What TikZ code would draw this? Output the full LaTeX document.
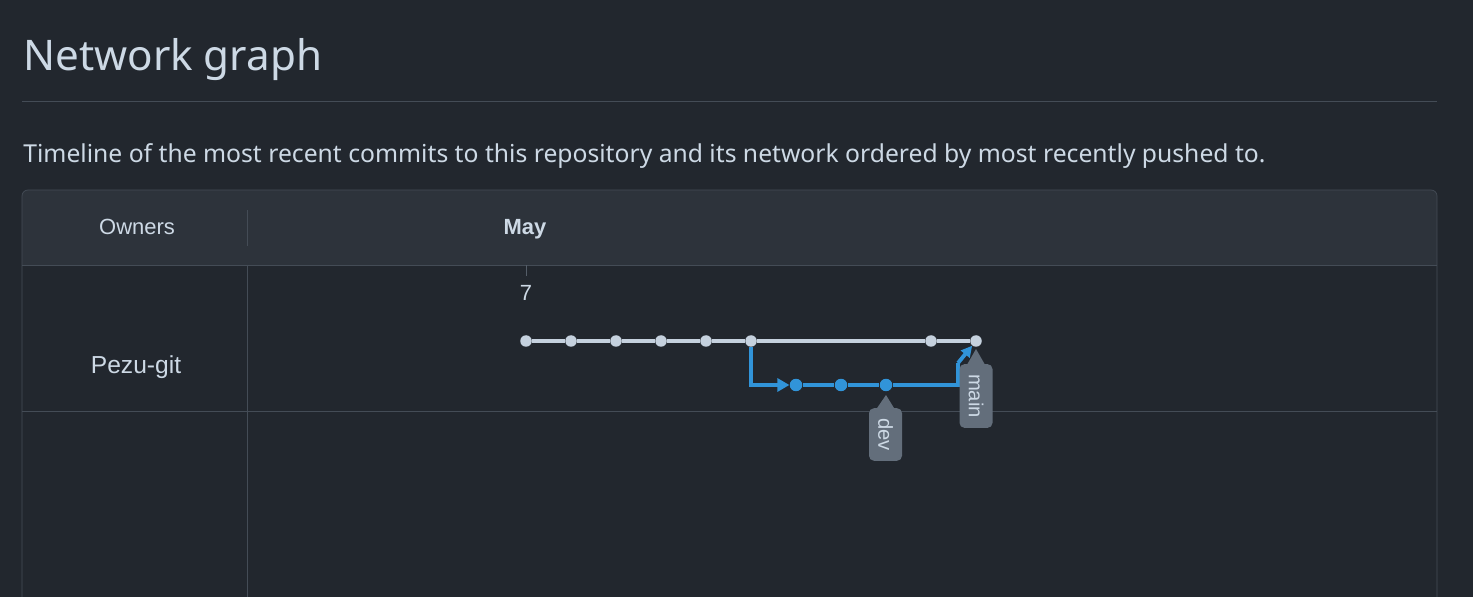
\documentclass[tikz,border=0pt]{standalone}
\usepackage{fontspec}
\setmainfont{Noto Sans}
\newfontfamily\arialfont{Liberation Sans}
\usetikzlibrary{arrows.meta,calc}
\definecolor{pagebg}{HTML}{22272E}
\definecolor{headbg}{HTML}{2D333B}
\definecolor{rulegray}{HTML}{444C56}
\definecolor{tickgray}{HTML}{545D68}
\definecolor{fgtext}{HTML}{ADBAC7}
\definecolor{lighttext}{HTML}{CDD9E5}
\definecolor{mainline}{HTML}{C5D1DE}
\definecolor{devblue}{HTML}{3194D9}
\definecolor{tagbg}{HTML}{636E7B}
\tikzset{
  commit/.style={circle, fill=mainline, inner sep=0pt, minimum size=0.23cm},
  devcommit/.style={circle, fill=devblue, inner sep=0pt, minimum size=0.25cm},
  tagbox/.style={fill=tagbg, rounded corners=0.1cm, text=lighttext, rotate=-90, font=\arialfont\fontsize{11.5}{13}\selectfont, minimum height=0.66cm, inner xsep=0.2cm},
  headtext/.style={text=lighttext, font=\arialfont\fontsize{12.5}{15}\selectfont}
}
\begin{document}
\begin{tikzpicture}[x=0.02cm, y=-0.02cm]
        \useasboundingbox (0,0) rectangle (1473,597);
        \fill[pagebg] (0,0) rectangle (1473,597);
        \node[anchor=base west, inner sep=0pt, text=lighttext, font=\fontsize{24}{29}\selectfont] (title) at (23,71) {Network graph};
        \draw[rulegray] (22,101) -- (1437,101);
        \node[anchor=base west, inner sep=0pt, text=lighttext, font=\fontsize{14.05}{17}\selectfont] (subtitle) at (23,163) {Timeline of the most recent commits to this repository and its network ordered by most recently pushed to.};
        \fill[headbg] (22,265) [rounded corners=0.12cm] -- (22,190) -- (1437,190) [sharp corners] -- (1437,265) -- cycle;
        \draw[rulegray] (22,597) [rounded corners=0.12cm] -- (22,190) -- (1437,190) [sharp corners] -- (1437,597);
        \draw[rulegray] (22,265) -- (1437,265);
        \draw[rulegray] (22,411) -- (1437,411);
        \draw[rulegray] (247,210) -- (247,246);
        \draw[rulegray] (247,265) -- (247,597);
        \draw[tickgray] (526,265) -- (526,276);
        \node[headtext] (ownershead) at (137,227) {Owners};
        \node[headtext, font=\arialfont\bfseries\fontsize{12.5}{15}\selectfont] (monthhead) at (525,229) {May};
        \node[headtext] (dayseven) at (526,293) {7};
        \node[headtext, font=\arialfont\fontsize{14}{17}\selectfont] (owner) at (136,367) {Pezu-git};
        \node[commit] (c1) at (526,341) {};
        \node[commit] (c2) at (571,341) {};
        \node[commit] (c3) at (616,341) {};
        \node[commit] (c4) at (661,341) {};
        \node[commit] (c5) at (706,341) {};
        \node[commit] (c6) at (751,341) {};
        \node[commit] (c7) at (931,341) {};
        \node[commit] (c8) at (976,341) {};
        \node[devcommit] (d1) at (796,385) {};
        \node[devcommit] (d2) at (841,385) {};
        \node[devcommit] (d3) at (886,385) {};
        \coordinate (mergebend) at (958,385);
        \coordinate (mergeup) at (958,363);
        \draw[mainline, line width=2.2pt] (c1) -- (c2) -- (c3) -- (c4) -- (c5) -- (c6) -- (c7) -- (c8);
        \draw[devblue, line width=2.2pt, -{Triangle[length=0.24cm, width=0.26cm]}] (c6) |- (d1);
        \draw[devblue, line width=2.2pt] (d1) -- (d2) -- (d3) -- (mergebend) -- (mergeup);
        \draw[devblue, line width=2.2pt, -{Triangle[length=0.22cm, width=0.22cm]}] (mergeup) -- (c8);
        \node[tagbox] (devtag) at (885.5,434.5) {dev};
        \node[tagbox] (maintag) at (976,396) {main};
        \fill[tagbg] ($(devtag.west)+(-9,1)$) -- (886,395) -- ($(devtag.west)+(9,1)$) -- cycle;
        \fill[tagbg] ($(maintag.west)+(-9,1)$) -- (976,349) -- ($(maintag.west)+(9,1)$) -- cycle;
\end{tikzpicture}
\end{document}
